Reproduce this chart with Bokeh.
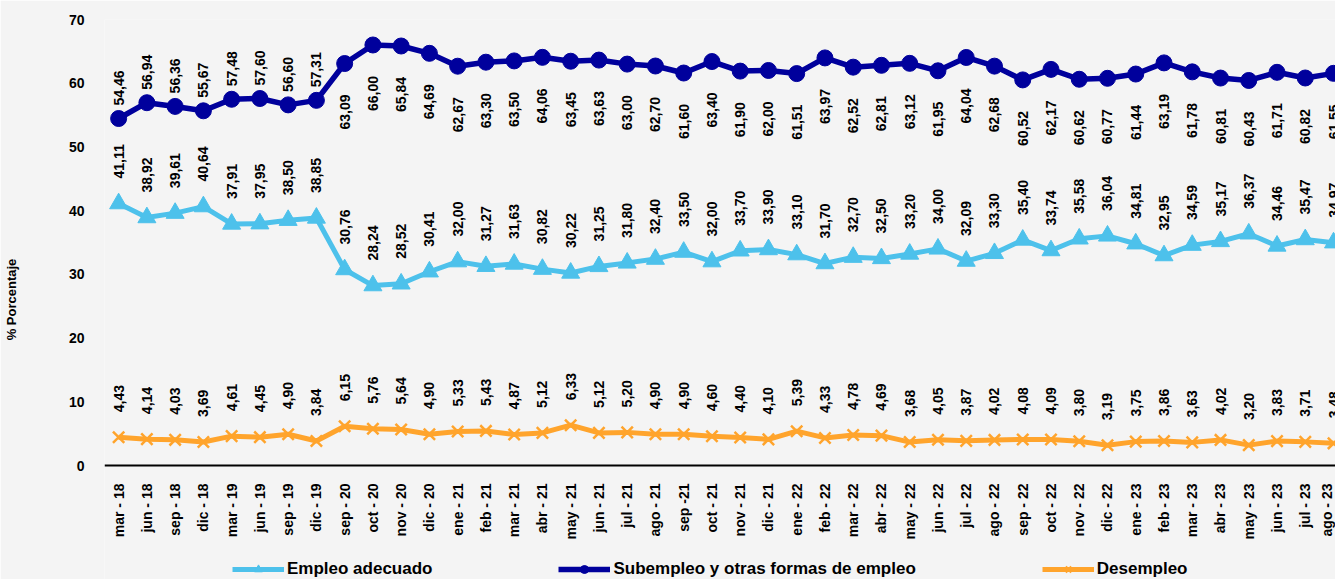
import math
from bokeh.plotting import figure
from bokeh.models import (ColumnDataSource, Range1d, FixedTicker, Legend, LegendItem, LinearAxis)
from bokeh.core.properties import value
from bokeh.embed import file_html
from bokeh.resources import INLINE

meses = ["mar - 18", "jun - 18", "sep - 18", "dic - 18", "mar - 19", "jun - 19", "sep - 19", "dic - 19",
         "sep - 20", "oct - 20", "nov - 20", "dic - 20", "ene - 21", "feb - 21", "mar - 21", "abr - 21",
         "may - 21", "jun - 21", "jul - 21", "ago - 21", "sep -21", "oct - 21", "nov - 21", "dic - 21",
         "ene - 22", "feb - 22", "mar - 22", "abr - 22", "may - 22", "jun - 22", "jul - 22", "ago - 22",
         "sep - 22", "oct - 22", "nov - 22", "dic - 22", "ene - 23", "feb - 23", "mar - 23", "abr - 23",
         "may - 23", "jun - 23", "jul - 23", "ago - 23"]

empleo_adecuado = [41.11, 38.92, 39.61, 40.64, 37.91, 37.95, 38.50, 38.85, 30.76, 28.24, 28.52, 30.41,
                   32.00, 31.27, 31.63, 30.82, 30.22, 31.25, 31.80, 32.40, 33.50, 32.00, 33.70, 33.90,
                   33.10, 31.70, 32.70, 32.50, 33.20, 34.00, 32.09, 33.30, 35.40, 33.74, 35.58, 36.04,
                   34.81, 32.95, 34.59, 35.17, 36.37, 34.46, 35.47, 34.97]

subempleo = [54.46, 56.94, 56.36, 55.67, 57.48, 57.60, 56.60, 57.31, 63.09, 66.00, 65.84, 64.69,
             62.67, 63.30, 63.50, 64.06, 63.45, 63.63, 63.00, 62.70, 61.60, 63.40, 61.90, 62.00,
             61.51, 63.97, 62.52, 62.81, 63.12, 61.95, 64.04, 62.68, 60.52, 62.17, 60.62, 60.77,
             61.44, 63.19, 61.78, 60.81, 60.43, 61.71, 60.82, 61.55]

desempleo = [4.43, 4.14, 4.03, 3.69, 4.61, 4.45, 4.90, 3.84, 6.15, 5.76, 5.64, 4.90,
             5.33, 5.43, 4.87, 5.12, 6.33, 5.12, 5.20, 4.90, 4.90, 4.60, 4.40, 4.10,
             5.39, 4.33, 4.78, 4.69, 3.68, 4.05, 3.87, 4.02, 4.08, 4.09, 3.80, 3.19,
             3.75, 3.86, 3.63, 4.02, 3.20, 3.83, 3.71, 3.48]

FONT = "Liberation Sans"
AZUL_CLARO = "#4dc1eb"
AZUL = "#00009c"
NARANJA = "#ffa42c"
FONDO = "#f4f4f4"

idx = list(range(len(meses)))

def fmt(v):
    return ("%.2f" % v).replace(".", ",")

# el area de trazado baja hasta el borde inferior; el eje x se fija en y = 0
p = figure(width=1335, height=579, output_backend="svg", toolbar_location=None,
           x_range=Range1d(-0.5, 43.07), y_range=Range1d(-17.89, 70), x_axis_location=None,
           min_border_left=101, min_border_right=0, min_border_top=19, min_border_bottom=0)
p.background_fill_color = FONDO
p.border_fill_color = FONDO
p.outline_line_color = None
p.xgrid.grid_line_color = None
p.ygrid.grid_line_color = None

xaxis = LinearAxis(fixed_location=0, ticker=FixedTicker(ticks=idx),
                   major_label_overrides={i: m for i, m in enumerate(meses)},
                   major_label_orientation=math.pi / 2,
                   major_label_text_font=FONT, major_label_text_font_style="bold",
                   major_label_text_font_size="14px", major_label_text_color="black",
                   major_label_standoff=12, major_tick_line_color=None,
                   minor_tick_line_color=None, axis_line_color="black", axis_line_width=2)
p.add_layout(xaxis, "below")

p.yaxis.ticker = FixedTicker(ticks=[0, 10, 20, 30, 40, 50, 60, 70])
p.yaxis.major_label_text_font = FONT
p.yaxis.major_label_text_font_style = "bold"
p.yaxis.major_label_text_font_size = "14px"
p.yaxis.major_label_text_color = "black"
p.yaxis.major_label_standoff = 14
p.yaxis.major_tick_line_color = None
p.yaxis.minor_tick_line_color = None
p.yaxis.axis_line_color = None
p.yaxis.axis_label = "% Porcentaje"
p.yaxis.axis_label_standoff = 47
p.yaxis.axis_label_text_font = FONT
p.yaxis.axis_label_text_font_style = "bold"
p.yaxis.axis_label_text_font_size = "13px"
p.yaxis.axis_label_text_color = "black"

src = ColumnDataSource(dict(x=idx, a=empleo_adecuado, s=subempleo, d=desempleo,
                            la=[fmt(v) for v in empleo_adecuado],
                            ld=[fmt(v) for v in desempleo]))

# Empleo adecuado
l1 = p.line("x", "a", source=src, color=AZUL_CLARO, line_width=5)
m1 = p.scatter("x", "a", source=src, marker="triangle", size=18, color=AZUL_CLARO)
# Subempleo
l2 = p.line("x", "s", source=src, color=AZUL, line_width=5.5)
m2 = p.scatter("x", "s", source=src, marker="circle", size=16, color=AZUL)
# Desempleo
l3 = p.line("x", "d", source=src, color=NARANJA, line_width=5)
m3 = p.scatter("x", "d", source=src, marker="x", size=16, line_color=NARANJA, line_width=2.5)

# etiquetas de datos
lab = dict(angle=math.pi / 2, text_font=value(FONT), text_font_style="bold",
           text_font_size="14px", text_color="black", text_baseline="middle")
p.text("x", "a", text="la", source=src, text_align="left", y_offset=-25, **lab)
p.text("x", "d", text="ld", source=src, text_align="left", y_offset=-25, **lab)
src_s1 = ColumnDataSource(dict(x=idx[:8], y=subempleo[:8], t=[fmt(v) for v in subempleo[:8]]))
src_s2 = ColumnDataSource(dict(x=idx[8:], y=subempleo[8:], t=[fmt(v) for v in subempleo[8:]]))
p.text("x", "y", text="t", source=src_s1, text_align="left", y_offset=-13, **lab)
p.text("x", "y", text="t", source=src_s2, text_align="right", y_offset=31, **lab)

legend = Legend(items=[LegendItem(label="Empleo adecuado", renderers=[l1, m1]),
                       LegendItem(label="Subempleo y otras formas de empleo", renderers=[l2, m2]),
                       LegendItem(label="Desempleo", renderers=[l3, m3])],
                orientation="horizontal", location=(128, 0),
                glyph_width=52, glyph_height=20, label_standoff=3, spacing=126,
                padding=0, margin=0, background_fill_alpha=0, border_line_color=None,
                label_text_font=FONT, label_text_font_style="bold",
                label_text_font_size="17px", label_text_color="black")
p.add_layout(legend)

open("out.html", "w").write(file_html(p, INLINE))
